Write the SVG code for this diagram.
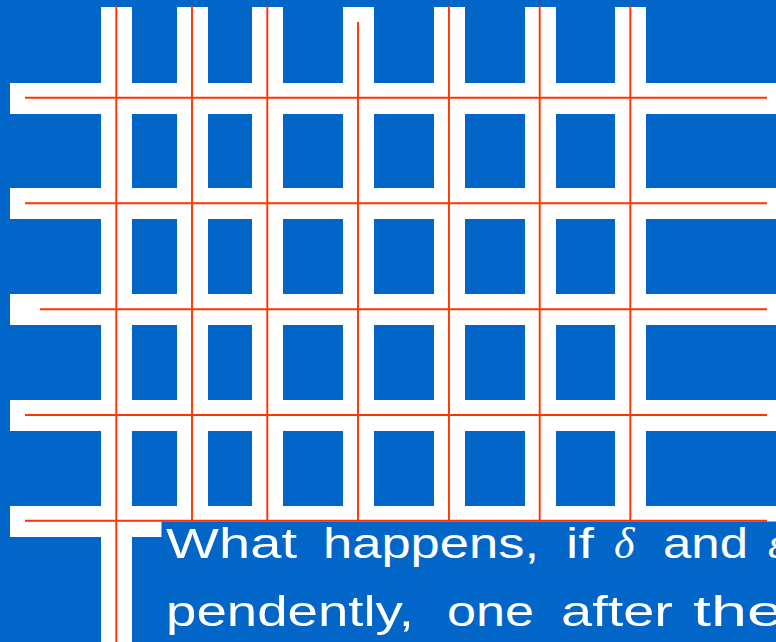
<svg xmlns="http://www.w3.org/2000/svg" width="776" height="642" viewBox="0 0 776 642">
<style>
.band{fill:#ffffff}
.red{stroke:#ff3300;stroke-width:1.9;fill:none}
.txt{fill:#ffffff;font-family:"Liberation Sans","DejaVu Sans",sans-serif;font-size:43px}
.math{fill:#ffffff;font-family:"Liberation Serif","DejaVu Serif",serif;font-style:italic;font-size:44px}
</style>
<rect x="0" y="0" width="776" height="642" fill="#0266c8"/>
<g id="grid">
<g id="columns">
<rect class="band" x="101" y="7" width="31" height="635"/>
<rect class="band" x="177" y="7" width="31" height="530"/>
<rect class="band" x="252" y="7" width="31" height="530"/>
<rect class="band" x="343" y="7" width="31" height="530"/>
<rect class="band" x="434" y="7" width="31" height="530"/>
<rect class="band" x="525" y="7" width="31" height="530"/>
<rect class="band" x="615" y="7" width="31" height="530"/>
</g>
<g id="rows">
<rect class="band" x="10" y="83" width="766" height="31"/>
<rect class="band" x="10" y="188" width="766" height="31"/>
<rect class="band" x="10" y="294" width="766" height="31"/>
<rect class="band" x="10" y="400" width="766" height="31"/>
<rect class="band" x="10" y="506" width="766" height="31"/>
</g>
</g>
<rect id="textbox" x="161.5" y="521.5" width="614.5" height="120.5" fill="#0266c8"/>
<g id="connectors">
<line class="red" x1="116.3" y1="6" x2="116.3" y2="642"/>
<line class="red" x1="192" y1="6" x2="192" y2="521"/>
<line class="red" x1="267.3" y1="6" x2="267.3" y2="521"/>
<line class="red" x1="358" y1="22" x2="358" y2="521"/>
<line class="red" x1="449" y1="6" x2="449" y2="521"/>
<line class="red" x1="539.7" y1="6" x2="539.7" y2="521"/>
<line class="red" x1="630.3" y1="6" x2="630.3" y2="521"/>
<line class="red" x1="25" y1="97.7" x2="767" y2="97.7"/>
<line class="red" x1="25" y1="203.3" x2="767" y2="203.3"/>
<line class="red" x1="40" y1="309.3" x2="767" y2="309.3"/>
<line class="red" x1="25" y1="415" x2="767" y2="415"/>
<line class="red" x1="25" y1="520.8" x2="767" y2="520.8"/>
</g>
<g id="text">
<text class="txt" x="166" y="558" textLength="131" lengthAdjust="spacingAndGlyphs">What</text>
<text class="txt" x="323" y="558" textLength="216" lengthAdjust="spacingAndGlyphs">happens,</text>
<text class="txt" x="566" y="558" textLength="28" lengthAdjust="spacingAndGlyphs">if</text>
<text class="math" x="614" y="558">δ</text>
<text class="txt" x="663" y="558" textLength="85" lengthAdjust="spacingAndGlyphs">and</text>
<text class="math" x="768" y="558">ε</text>
<text class="txt" x="166" y="626" textLength="248" lengthAdjust="spacingAndGlyphs">pendently,</text>
<text class="txt" x="447" y="626" textLength="87" lengthAdjust="spacingAndGlyphs">one</text>
<text class="txt" x="561" y="626" textLength="112" lengthAdjust="spacingAndGlyphs">after</text>
<text class="txt" x="693" y="626" textLength="90" lengthAdjust="spacingAndGlyphs">the</text>
</g>
</svg>
